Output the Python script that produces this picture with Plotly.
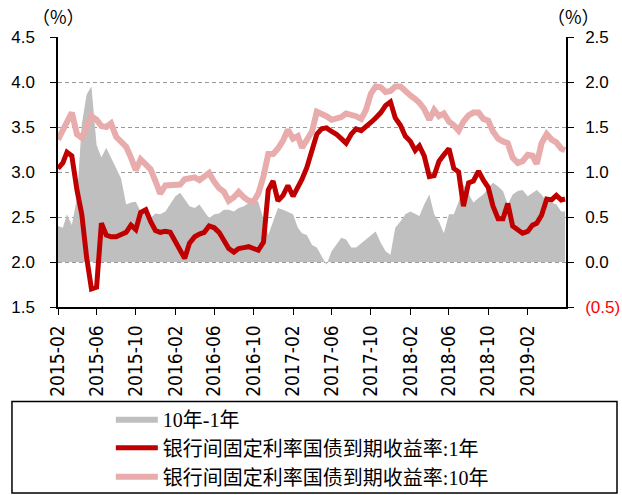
import plotly.graph_objects as go

# half-month observation dates, Feb 2015 .. May 2019
months = [(y, m) for y in range(2015, 2020) for m in range(1, 13)
          if (2015, 2) <= (y, m) <= (2019, 5)]
dates = [f"{y}-{m:02d}-{d:02d}" for y, m in months for d in (1, 16)]
dates.append("2019-05-28")

# 1Y government bond yield (%)
yield_1y = [
    3.04, 3.10, 3.22, 3.18, 2.80, 2.53, 2.05, 1.70, 1.72, 2.43,
    2.30, 2.28, 2.28, 2.30, 2.33, 2.41, 2.36, 2.55, 2.58, 2.45,
    2.35, 2.33, 2.34, 2.33, 2.22, 2.12, 2.04, 2.21, 2.28, 2.31,
    2.33, 2.40, 2.38, 2.33, 2.25, 2.15, 2.11, 2.15, 2.16, 2.17,
    2.15, 2.13, 2.22, 2.80, 2.90, 2.68, 2.74, 2.85, 2.73, 2.82,
    2.92, 3.05, 3.25, 3.42, 3.48, 3.49, 3.45, 3.42, 3.37, 3.32,
    3.42, 3.48, 3.46, 3.50, 3.55, 3.60, 3.66, 3.74, 3.78, 3.60,
    3.52, 3.40, 3.34, 3.24, 3.29, 3.18, 2.95, 2.96, 3.12, 3.19,
    3.26, 3.04, 3.00, 2.62, 2.88, 2.90, 3.01, 2.91, 2.83, 2.62,
    2.48, 2.48, 2.65, 2.40, 2.35, 2.32, 2.34, 2.41, 2.43, 2.52,
    2.70, 2.69, 2.74, 2.69, 2.70,
]

# 10Y government bond yield (%)
yield_10y = [
    3.36, 3.47, 3.58, 3.66, 3.42, 3.38, 3.50, 3.62, 3.58, 3.51,
    3.50, 3.54, 3.39, 3.34, 3.28, 3.16, 3.02, 3.14, 3.08, 3.03,
    2.90, 2.76, 2.85, 2.85, 2.85, 2.86, 2.92, 2.93, 2.94, 2.91,
    2.96, 2.99, 2.89, 2.82, 2.78, 2.68, 2.72, 2.78, 2.72, 2.68,
    2.67, 2.76, 2.95, 3.20, 3.20, 3.26, 3.35, 3.47, 3.37, 3.40,
    3.27, 3.35, 3.45, 3.67, 3.65, 3.62, 3.58, 3.59, 3.61, 3.65,
    3.64, 3.62, 3.59, 3.69, 3.87, 3.95, 3.94, 3.89, 3.90, 3.95,
    3.95, 3.89, 3.85, 3.81, 3.77, 3.70, 3.58, 3.69, 3.62, 3.65,
    3.56, 3.52, 3.46, 3.56, 3.63, 3.66, 3.66, 3.59, 3.57, 3.45,
    3.37, 3.34, 3.32, 3.16, 3.10, 3.12, 3.19, 3.18, 3.09, 3.32,
    3.42, 3.36, 3.33, 3.26, 3.24,
]

# term spread 10Y-1Y (%), right axis
spread = [
    0.40, 0.38, 0.53, 0.41, 0.71, 1.53, 1.86, 1.95, 1.30, 1.16,
    1.27, 1.16, 1.04, 0.93, 0.64, 0.66, 0.67, 0.56, 0.53, 0.49,
    0.54, 0.53, 0.56, 0.64, 0.73, 0.77, 0.69, 0.62, 0.60, 0.64,
    0.56, 0.49, 0.53, 0.54, 0.58, 0.58, 0.56, 0.60, 0.62, 0.66,
    0.69, 0.67, 0.49, 0.30, 0.45, 0.60, 0.58, 0.56, 0.53, 0.38,
    0.32, 0.30, 0.19, 0.16, 0.06, -0.03, 0.12, 0.19, 0.27, 0.25,
    0.16, 0.16, 0.21, 0.25, 0.30, 0.34, 0.21, 0.12, 0.08, 0.38,
    0.45, 0.53, 0.56, 0.53, 0.51, 0.64, 0.75, 0.53, 0.45, 0.32,
    0.53, 0.53, 0.67, 0.86, 0.75, 0.66, 0.71, 0.75, 0.82, 0.88,
    0.84, 0.79, 0.64, 0.75, 0.79, 0.80, 0.73, 0.77, 0.80, 0.75,
    0.67, 0.66, 0.64, 0.56, 0.56,
]

left_ticks = [1.5, 2.0, 2.5, 3.0, 3.5, 4.0, 4.5]
right_ticks = [-0.5, 0.0, 0.5, 1.0, 1.5, 2.0, 2.5]
right_labels = ['<span style="color:#FF0000">(0.5)</span>', "0.0", "0.5",
                "1.0", "1.5", "2.0", "2.5"]

num_font = dict(family="Liberation Sans, Arial", size=17, color="black")
unit_font = dict(family="Noto Sans CJK SC", size=18, color="black")

fig = go.Figure()

fig.add_trace(go.Scatter(
    x=dates, y=spread, yaxis="y", name="10年-1年",
    mode="lines", line=dict(width=0, color="#BFBFBF"),
    fill="tozeroy", fillcolor="#BFBFBF", legendgroup="a",
))
fig.add_trace(go.Scatter(
    x=dates, y=yield_1y, yaxis="y2", name="银行间固定利率国债到期收益率:1年",
    mode="lines", line=dict(width=5, color="#C00000"), legendgroup="b",
))
fig.add_trace(go.Scatter(
    x=dates, y=yield_10y, yaxis="y2", name="银行间固定利率国债到期收益率:10年",
    mode="lines", line=dict(width=6, color="#E8ACAC"), legendgroup="c",
))

fig.update_layout(
    width=622, height=495, autosize=False,
    margin=dict(l=58, r=56, t=37, b=188, autoexpand=False),
    plot_bgcolor="white", paper_bgcolor="white",
    showlegend=True,
    xaxis=dict(
        type="date", range=["2015-02-01", "2019-05-31"], automargin=False,
        tick0="2015-02-01", dtick="M4", tickformat="%Y-%m", tickangle=-90,
        ticks="outside", ticklen=6, tickcolor="black", ticklabelstandoff=3,
        showline=True, linecolor="black", linewidth=1.5, showgrid=False,
        tickfont=dict(family="Liberation Sans Narrow, DejaVu Sans Condensed, Arial",
                      size=19, color="black"),
    ),
    yaxis=dict(
        side="right", range=[-0.5, 2.5], automargin=False,
        tickvals=right_ticks, ticktext=right_labels,
        ticks="outside", ticklen=6, tickcolor="black", ticklabelstandoff=8,
        showline=True, linecolor="black", linewidth=1.5,
        showgrid=True, gridcolor="#9A9A9A", gridwidth=1, griddash="4px,3px",
        zeroline=False, tickfont=num_font,
    ),
    yaxis2=dict(
        overlaying="y", side="left", range=[1.5, 4.5], automargin=False,
        tickvals=left_ticks, tickformat=".1f",
        ticks="outside", ticklen=6, tickcolor="black", ticklabelstandoff=12,
        showline=True, linecolor="black", linewidth=1.5,
        showgrid=False, zeroline=False, tickfont=num_font,
    ),
    legend=dict(
        x=0.104, y=-0.342, xanchor="left", yanchor="top",
        bgcolor="rgba(0,0,0,0)", borderwidth=0,
        traceorder="grouped", tracegroupgap=0, itemwidth=42,
        font=dict(family="Liberation Serif, Noto Sans CJK SC", size=20, color="black"),
    ),
    shapes=[dict(
        type="rect", xref="paper", yref="paper",
        x0=-0.0906, x1=1.1004, y0=-0.6889, y1=-0.35,
        line=dict(color="black", width=1.5), fillcolor="rgba(0,0,0,0)",
    )],
    annotations=[
        dict(text="（%）", xref="paper", yref="paper", x=0.001, y=1.078,
             xanchor="center", yanchor="middle", showarrow=False, font=unit_font),
        dict(text="（%）", xref="paper", yref="paper", x=1.0157, y=1.078,
             xanchor="center", yanchor="middle", showarrow=False, font=unit_font),
    ],
)

fig.write_html("out.html", config={"displayModeBar": False},
               post_script="document.body.style.margin='0';")
